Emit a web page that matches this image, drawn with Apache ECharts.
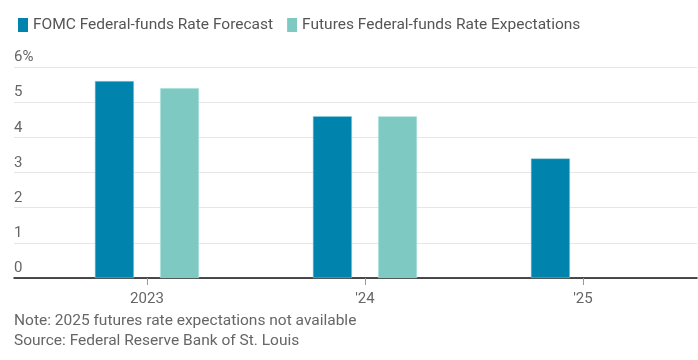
<!DOCTYPE html>
<html>
<head>
<meta charset="utf-8">
<script src="https://cdn.jsdelivr.net/npm/echarts@6/dist/echarts.min.js"></script>
<style>html,body{margin:0;padding:0;background:#fff}#c{width:698px;height:360px}</style>
</head>
<body>
<div id="c"></div>
<script>
const categories = ['2023', "'24", "'25"];
const fomcForecast = [5.6, 4.6, 3.4];
const futuresExpectations = [5.4, 4.6, null];
const yTicks = [0, 1, 2, 3, 4, 5, 6];
const seriesNames = ['FOMC Federal-funds Rate Forecast', 'Futures Federal-funds Rate Expectations'];
const noteText = 'Note: 2025 futures rate expectations not available';
const sourceText = 'Source: Federal Reserve Bank of St. Louis';

const idx = categories.map((_, i) => i);
const font = 'Roboto, "Liberation Sans", sans-serif';
const chart = echarts.init(document.getElementById('c'), null, {renderer: 'canvas'});
chart.setOption({
  animation: false,
  textStyle: {fontFamily: font},
  legend: {
    left: 13, top: 12, icon: 'rect', itemWidth: 10, itemHeight: 14, itemGap: 14,
    itemStyle: {borderWidth: 0},
    textStyle: {fontSize: 15.5, color: '#555', fontFamily: font},
    data: seriesNames
  },
  grid: {left: 14, right: 1, top: 67, bottom: 82, containLabel: false},
  xAxis: {
    type: 'value', min: -0.61, max: 2.523,
    splitLine: {show: false},
    axisLine: {show: true, onZero: false, lineStyle: {color: '#111', width: 1.5}},
    axisTick: {show: true, customValues: idx, length: 7, lineStyle: {color: '#999'}},
    axisLabel: {show: true, customValues: idx, margin: 14, fontSize: 15, color: '#666',
      formatter: v => categories[Math.round(v)]}
  },
  yAxis: {
    type: 'value', min: 0, max: 6, interval: 1,
    axisLine: {show: false}, axisTick: {show: false},
    splitLine: {lineStyle: {color: '#e6e6e6', width: 1}},
    axisLabel: {inside: true, margin: 0, align: 'left', verticalAlign: 'bottom', padding: [0,0,2,0],
      fontSize: 15, color: '#666',
      formatter: v => yTicks.indexOf(v) === yTicks.length - 1 ? v + '%' : String(v)}
  },
  series: [
    {name: seriesNames[0], type: 'bar', barWidth: 39, barGap: '67%',
      itemStyle: {color: '#0083ad', borderColor: '#8fcfe0', borderWidth: 0.5},
      data: idx.map(i => [i, fomcForecast[i]])},
    {name: seriesNames[1], type: 'bar', barWidth: 39, barGap: '67%',
      itemStyle: {color: '#7fc9c3', borderColor: '#c5ece8', borderWidth: 0.5},
      data: idx.filter(i => futuresExpectations[i] != null).map(i => [i, futuresExpectations[i]])}
  ],
  graphic: [
    {type: 'text', left: 14, top: 313, style: {text: noteText, fontSize: 15.5, fill: '#666', fontFamily: font}},
    {type: 'text', left: 14, top: 333, style: {text: sourceText, fontSize: 15.5, fill: '#666', fontFamily: font}}
  ]
});
</script>
</body>
</html>
